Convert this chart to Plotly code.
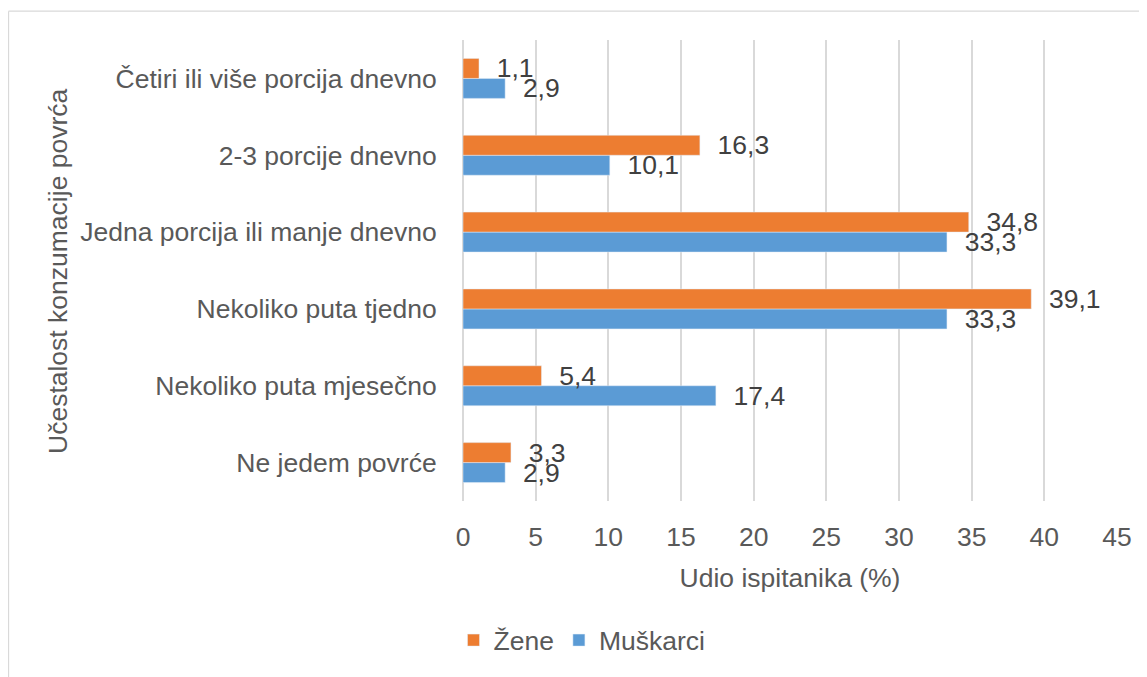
import plotly.graph_objects as go

categories = [
    "Četiri ili više porcija dnevno",
    "2-3 porcije dnevno",
    "Jedna porcija ili manje dnevno",
    "Nekoliko puta tjedno",
    "Nekoliko puta mjesečno",
    "Ne jedem povrće",
]
zene = [1.1, 16.3, 34.8, 39.1, 5.4, 3.3]
muskarci = [2.9, 10.1, 33.3, 33.3, 17.4, 2.9]
x_ticks = [0, 5, 10, 15, 20, 25, 30, 35, 40, 45]

FONT = "Liberation Sans, Arial, sans-serif"
FS = 26.5
OFF = 8  # page body margin
W, H = 1147 - OFF, 677 - OFF
L, R, T, B = 463 - OFF, 30, 40 - OFF, 174
pw, ph = W - L - R, H - T - B

# helpers converting reference-screen pixels to paper coordinates
def px_x(p):
    return (p - OFF - L) / pw

def px_y(p):
    return (H - B - (p - OFF)) / ph

fig = go.Figure()
common = dict(
    orientation="h",
    textposition="outside",
    texttemplate="\u00a0\u00a0%{x:.1f}",
    textfont=dict(family=FONT, size=FS, color="#404040"),
    constraintext="none",
    cliponaxis=False,
)
fig.add_trace(go.Bar(name="Muškarci", y=categories, x=muskarci,
                     marker=dict(color="#5B9BD5"), legendrank=2, **common))
fig.add_trace(go.Bar(name="Žene", y=categories, x=zene,
                     marker=dict(color="#ED7D31"), legendrank=1, **common))

fig.update_layout(
    width=W, height=H,
    margin=dict(l=L, r=R, t=T, b=B),
    paper_bgcolor="white", plot_bgcolor="white",
    barmode="group", bargap=0.48, bargroupgap=0,
    separators=",.",
    font=dict(family=FONT, size=FS, color="#595959"),
    showlegend=True,
    legend=dict(orientation="h", x=px_x(582), xanchor="center",
                y=px_y(643), yanchor="middle",
                font=dict(size=FS, color="#595959"), itemwidth=30,
                tracegroupgap=0),
    xaxis=dict(range=[0, 45], tickvals=x_ticks, showgrid=True,
               gridcolor="#d9d9d9", gridwidth=1.5, zeroline=True,
               zerolinecolor="#d9d9d9", zerolinewidth=1.5,
               showline=False, ticks="outside", ticklen=12,
               tickcolor="rgba(0,0,0,0)",
               tickfont=dict(size=FS, color="#595959"),
               title=dict(text="Udio ispitanika (%)", standoff=17,
                          font=dict(size=FS, color="#595959"))),
    yaxis=dict(categoryorder="array", categoryarray=categories[::-1],
               showgrid=False, showline=False, ticks="outside", ticklen=20,
               tickcolor="rgba(0,0,0,0)",
               tickfont=dict(size=FS, color="#595959")),
    annotations=[dict(text="Učestalost konzumacije povrća", textangle=-90,
                      xref="paper", yref="paper", x=px_x(58), y=px_y(272),
                      xanchor="center", yanchor="middle", showarrow=False,
                      font=dict(size=FS, color="#595959"))],
    shapes=[
        dict(type="line", xref="paper", yref="paper",
             x0=px_x(8.5), x1=px_x(8.5), y0=px_y(11), y1=px_y(700),
             line=dict(color="#d9d9d9", width=1.3)),
        dict(type="line", xref="paper", yref="paper",
             x0=px_x(8.5), x1=px_x(1160), y0=px_y(11), y1=px_y(11),
             line=dict(color="#d9d9d9", width=1.3)),
    ],
)

fig.write_html("out.html")
